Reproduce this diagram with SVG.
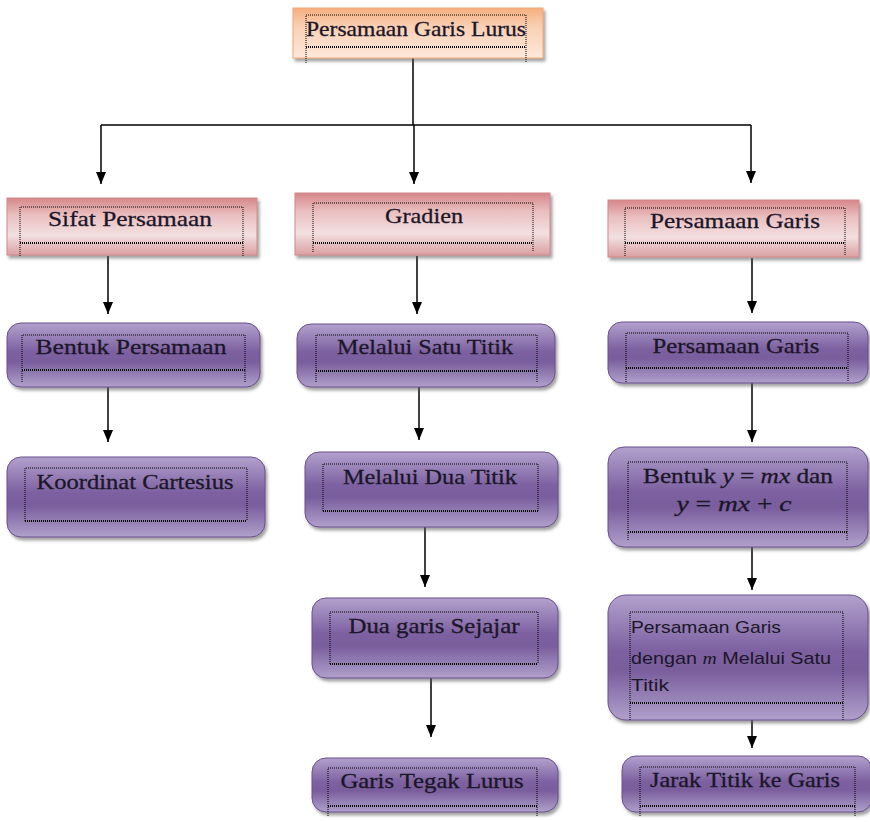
<svg xmlns="http://www.w3.org/2000/svg" width="870" height="822" viewBox="0 0 870 822">
<defs>
<linearGradient id="gOr" x1="0" y1="0" x2="0" y2="1">
<stop offset="0" stop-color="#f5ae7e"/><stop offset="0.35" stop-color="#f9cfb2"/><stop offset="1" stop-color="#fde8da"/>
</linearGradient>
<linearGradient id="gPk" x1="0" y1="0" x2="0" y2="1">
<stop offset="0" stop-color="#d6878a"/><stop offset="0.3" stop-color="#eabfc0"/><stop offset="0.65" stop-color="#f3dfe0"/><stop offset="1" stop-color="#daa0a2"/>
</linearGradient>
<linearGradient id="gPu" x1="0" y1="0" x2="0" y2="1">
<stop offset="0" stop-color="#b2a1cd"/><stop offset="0.45" stop-color="#7c60a0"/><stop offset="0.6" stop-color="#795d9c"/><stop offset="1" stop-color="#b0a0cb"/>
</linearGradient>
<filter id="sh" x="-10%" y="-20%" width="125%" height="150%">
<feDropShadow dx="2" dy="3" stdDeviation="1.5" flood-color="#555" flood-opacity="0.55"/>
</filter>
<marker id="ah" viewBox="0 0 12 10" refX="12" refY="5" markerWidth="12" markerHeight="10" orient="auto" markerUnits="userSpaceOnUse">
<path d="M0,0 L12,5 L0,10 z" fill="#000"/>
</marker>
</defs>
<style>
.or{fill:url(#gOr);stroke:#f0a878;stroke-width:1;filter:url(#sh)}
.pk{fill:url(#gPk);stroke:#d08a8c;stroke-width:1;filter:url(#sh)}
.pu{fill:url(#gPu);stroke:#6a5090;stroke-width:1;filter:url(#sh)}
.dot{fill:none;stroke:#000;stroke-width:1;stroke-dasharray:1 1}
.dl{fill:none;stroke:#000;stroke-width:2;stroke-dasharray:1 1}
.t{font-family:"Liberation Serif","DejaVu Serif",serif;font-size:22px;fill:#1c1629;stroke:#1c1629;stroke-width:0.3;text-anchor:middle}
.ts{font-family:"Liberation Sans","Open Sans",sans-serif;font-size:17px;fill:#1c1629}
.c{fill:none;stroke:#000;stroke-width:1.5}
.a{fill:none;stroke:#000;stroke-width:1.5;marker-end:url(#ah)}
</style>

<g id="connectors">
<path class="c" d="M413,58 V125 M101,125 H751"/>
<line class="a" x1="101" y1="125" x2="101" y2="184"/>
<line class="a" x1="414" y1="125" x2="414" y2="184"/>
<line class="a" x1="751" y1="125" x2="751" y2="183"/>
<line class="a" x1="108" y1="256" x2="108" y2="314"/>
<line class="a" x1="417" y1="256" x2="417" y2="314"/>
<line class="a" x1="752" y1="258" x2="752" y2="313"/>
<line class="a" x1="108" y1="387" x2="108" y2="442"/>
<line class="a" x1="419" y1="387" x2="419" y2="440"/>
<line class="a" x1="752" y1="383" x2="752" y2="442"/>
<line class="a" x1="425" y1="527" x2="425" y2="587"/>
<line class="a" x1="752" y1="547" x2="752" y2="590"/>
<line class="a" x1="431" y1="678" x2="431" y2="737"/>
<line class="a" x1="752" y1="720" x2="752" y2="748"/>
</g>

<g id="n-root">
<rect class="or" x="293" y="8" width="250" height="50"/>
<path class="dot" d="M306,63 V15 H526 V63"/>
<line class="dl" x1="306" y1="47" x2="526" y2="47"/>
<text class="t" x="306" y="36" style="text-anchor:start" textLength="220" lengthAdjust="spacingAndGlyphs">Persamaan Garis Lurus</text>
</g>

<g id="n-sifat">
<rect class="pk" x="7" y="198" width="250" height="57"/>
<path class="dot" d="M20,256 V207 H243 V256"/>
<line class="dl" x1="20" y1="243" x2="243" y2="243"/>
<text class="t" x="130" y="226" textLength="164" lengthAdjust="spacingAndGlyphs">Sifat Persamaan</text>
</g>

<g id="n-gradien">
<rect class="pk" x="295" y="193" width="255" height="62"/>
<path class="dot" d="M313,252 V203 H533 V252"/>
<line class="dl" x1="313" y1="243" x2="533" y2="243"/>
<text class="t" x="424" y="223" textLength="78" lengthAdjust="spacingAndGlyphs">Gradien</text>
</g>

<g id="n-pgaris">
<rect class="pk" x="608" y="200" width="251" height="57"/>
<path class="dot" d="M625,256 V208 H845 V256"/>
<line class="dl" x1="625" y1="243" x2="845" y2="243"/>
<text class="t" x="735" y="228" textLength="170" lengthAdjust="spacingAndGlyphs">Persamaan Garis</text>
</g>

<g id="n-bentuk">
<rect class="pu" x="7" y="323" width="253" height="64" rx="14"/>
<path class="dot" d="M22,382 V335 H245 V382"/>
<line class="dl" x1="22" y1="370" x2="245" y2="370"/>
<text class="t" x="131" y="354" textLength="191" lengthAdjust="spacingAndGlyphs">Bentuk Persamaan</text>
</g>

<g id="n-koordinat">
<rect class="pu" x="7" y="457" width="258" height="80" rx="14"/>
<path class="dot" d="M25,521 V468 H247 V521"/>
<line class="dl" x1="25" y1="521" x2="247" y2="521"/>
<text class="t" x="135" y="489" textLength="197" lengthAdjust="spacingAndGlyphs">Koordinat Cartesius</text>
</g>

<g id="n-satu">
<rect class="pu" x="297" y="324" width="258" height="63" rx="14"/>
<path class="dot" d="M316,382 V335 H537 V382"/>
<line class="dl" x1="316" y1="371" x2="537" y2="371"/>
<text class="t" x="425" y="354" textLength="176" lengthAdjust="spacingAndGlyphs">Melalui Satu Titik</text>
</g>

<g id="n-dua">
<rect class="pu" x="305" y="452" width="253" height="75" rx="14"/>
<path class="dot" d="M323,511 V464 H538 V511"/>
<line class="dl" x1="323" y1="511" x2="538" y2="511"/>
<text class="t" x="430" y="484" textLength="174" lengthAdjust="spacingAndGlyphs">Melalui Dua Titik</text>
</g>

<g id="n-sejajar">
<rect class="pu" x="312" y="598" width="246" height="80" rx="14"/>
<path class="dot" d="M330,664 V612 H538 V664"/>
<line class="dl" x1="330" y1="664" x2="538" y2="664"/>
<text class="t" x="434" y="633" textLength="171" lengthAdjust="spacingAndGlyphs">Dua garis Sejajar</text>
</g>

<g id="n-tegak">
<rect class="pu" x="312" y="758" width="246" height="54" rx="14"/>
<path class="dot" d="M328,816 V768 H537 V816"/>
<line class="dl" x1="328" y1="806" x2="537" y2="806"/>
<text class="t" x="432" y="788" textLength="183" lengthAdjust="spacingAndGlyphs">Garis Tegak Lurus</text>
</g>

<g id="n-pgaris2">
<rect class="pu" x="608" y="322" width="260" height="61" rx="14"/>
<path class="dot" d="M626,382 V333 H848 V382"/>
<line class="dl" x1="626" y1="368" x2="848" y2="368"/>
<text class="t" x="736" y="353" textLength="167" lengthAdjust="spacingAndGlyphs">Persamaan Garis</text>
</g>

<g id="n-bentuky">
<rect class="pu" x="608" y="447" width="260" height="100" rx="16"/>
<path class="dot" d="M628,540 V462 H847 V540"/>
<line class="dl" x1="628" y1="532" x2="847" y2="532"/>
<text class="t" x="738" y="483" textLength="190" lengthAdjust="spacingAndGlyphs">Bentuk <tspan font-style="italic">y</tspan> = <tspan font-style="italic">mx</tspan> dan</text>
<text class="t" x="734" y="511" textLength="115" lengthAdjust="spacingAndGlyphs"><tspan font-style="italic">y</tspan> = <tspan font-style="italic">mx</tspan> + <tspan font-style="italic">c</tspan></text>
</g>

<g id="n-pgm">
<rect class="pu" x="608" y="595" width="260" height="125" rx="18"/>
<path class="dot" d="M630,720 V612 H843 V720"/>
<line class="dl" x1="630" y1="703" x2="843" y2="703"/>
<text class="ts" x="631" y="633" textLength="150" lengthAdjust="spacingAndGlyphs">Persamaan Garis</text>
<text class="ts" x="631" y="664" textLength="200" lengthAdjust="spacingAndGlyphs">dengan <tspan font-family="Liberation Serif, serif" font-style="italic">m</tspan> Melalui Satu</text>
<text class="ts" x="631" y="691" textLength="38" lengthAdjust="spacingAndGlyphs">Titik</text>
</g>

<g id="n-jarak">
<rect class="pu" x="622" y="756" width="250" height="56" rx="14"/>
<path class="dot" d="M640,816 V767 H855 V816"/>
<line class="dl" x1="640" y1="806" x2="855" y2="806"/>
<text class="t" x="745" y="787" textLength="190" lengthAdjust="spacingAndGlyphs">Jarak Titik ke Garis</text>
</g>
</svg>
